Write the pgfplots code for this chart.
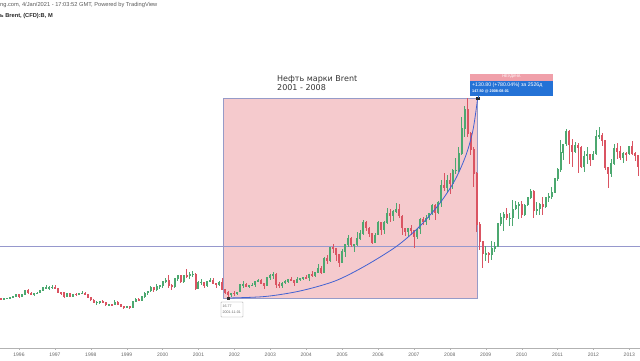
\documentclass[border=0pt]{standalone}
\usepackage{fontspec}
\setmainfont{Liberation Sans}
\newfontfamily\dejavu{DejaVu Sans}
\usepackage{pgfplots}
\usepackage{pgfplotstable}
\pgfplotsset{compat=1.18}
\definecolor{upc}{RGB}{76,168,112}
\definecolor{dnc}{RGB}{218,84,98}
\definecolor{zone}{RGB}{245,202,205}
\definecolor{zoneedge}{RGB}{150,155,200}
\definecolor{hline}{RGB}{150,152,205}
\definecolor{curveblue}{RGB}{66,98,210}
\definecolor{boxblue}{RGB}{36,114,214}
\definecolor{boxpink}{RGB}{240,160,170}
\pgfplotstableread{
yr m o h l c
1995 6 17.5 17.8 16.3 16.6
1995 7 16.6 16.9 15.8 16.2
1995 8 16.2 16.9 15.9 16.6
1995 9 16.6 16.9 16.1 16.6
1995 10 16.6 17.1 15.9 16.9
1995 11 16.9 17.8 16.6 17.6
1995 12 17.6 19.4 17.4 19.0
1996 1 19.0 19.2 16.8 17.8
1996 2 17.8 19.2 17.6 19.0
1996 3 19.0 22.0 18.8 21.5
1996 4 21.5 22.8 19.5 20.0
1996 5 20.0 20.5 18.6 19.3
1996 6 19.3 20.0 18.3 19.6
1996 7 19.6 20.8 19.2 20.0
1996 8 20.0 21.9 19.8 21.8
1996 9 21.8 24.0 21.5 23.4
1996 10 23.4 25.2 22.5 23.5
1996 11 23.5 24.5 22.3 23.7
1996 12 23.7 25.2 22.8 23.8
1997 1 23.8 25.0 22.8 23.3
1997 2 23.3 23.5 19.8 20.3
1997 3 20.3 21.0 18.8 20.2
1997 4 20.2 20.4 16.8 18.0
1997 5 18.0 20.2 17.6 19.5
1997 6 19.5 19.8 17.5 17.8
1997 7 17.8 19.6 17.6 19.4
1997 8 19.4 20.0 18.3 19.0
1997 9 19.0 20.2 18.5 20.0
1997 10 20.0 21.5 19.5 20.1
1997 11 20.1 20.4 18.6 18.9
1997 12 18.9 19.2 16.5 16.9
1998 1 16.9 17.0 14.8 15.5
1998 2 15.5 15.8 13.8 14.0
1998 3 14.0 14.6 12.0 14.1
1998 4 14.1 14.9 12.8 14.4
1998 5 14.4 15.2 13.8 14.1
1998 6 14.1 14.4 11.8 12.3
1998 7 12.3 13.0 11.6 12.4
1998 8 12.4 12.9 11.5 12.2
1998 9 12.2 15.4 12.0 14.2
1998 10 14.2 14.5 12.2 12.6
1998 11 12.6 13.0 10.6 11.0
1998 12 11.0 11.2 9.6 10.3
1999 1 10.3 11.8 10.1 11.2
1999 2 11.2 11.4 9.8 10.7
1999 3 10.7 14.8 10.5 14.5
1999 4 14.5 16.5 14.0 16.0
1999 5 16.0 16.6 14.8 15.2
1999 6 15.2 17.8 14.9 17.6
1999 7 17.6 20.4 17.0 20.0
1999 8 20.0 21.6 19.0 21.3
1999 9 21.3 24.6 20.7 23.8
1999 10 23.8 24.0 20.8 22.0
1999 11 22.0 26.1 21.6 24.5
1999 12 24.5 25.3 22.6 25.0
2000 1 25.0 28.0 23.3 27.5
2000 2 27.5 30.0 26.6 28.5
2000 3 28.5 31.5 23.0 25.0
2000 4 25.0 25.8 21.8 24.2
2000 5 24.2 30.0 23.6 29.6
2000 6 29.6 32.0 28.1 31.6
2000 7 31.6 31.9 26.3 27.2
2000 8 27.2 32.0 26.8 31.6
2000 9 31.6 35.5 29.8 31.3
2000 10 31.3 34.0 29.0 32.0
2000 11 32.0 34.5 30.5 32.5
2000 12 32.5 33.0 21.8 23.0
2001 1 23.0 27.8 22.6 26.9
2001 2 26.9 29.0 25.5 27.0
2001 3 27.0 27.4 23.4 24.6
2001 4 24.6 28.0 23.8 27.7
2001 5 27.7 29.8 27.0 28.2
2001 6 28.2 29.6 26.0 26.2
2001 7 26.2 26.5 23.6 25.5
2001 8 25.5 28.0 24.5 26.8
2001 9 26.8 30.0 21.8 22.5
2001 10 22.5 22.9 19.5 20.4
2001 11 20.4 21.5 16.77 18.7
2001 12 18.7 20.3 17.6 20.0
2002 1 20.0 21.3 17.9 19.6
2002 2 19.6 21.0 18.5 20.7
2002 3 20.7 25.8 20.4 25.5
2002 4 25.5 27.7 23.5 25.6
2002 5 25.6 26.5 23.7 24.2
2002 6 24.2 25.5 23.0 25.0
2002 7 25.0 26.5 24.5 25.3
2002 8 25.3 27.7 24.0 27.5
2002 9 27.5 29.3 27.0 28.6
2002 10 28.6 29.3 25.8 26.0
2002 11 26.0 26.4 22.8 24.6
2002 12 24.6 30.3 24.5 30.0
2003 1 30.0 32.5 28.8 31.3
2003 2 31.3 34.0 29.5 32.5
2003 3 32.5 33.0 23.0 25.4
2003 4 25.4 27.0 23.0 24.6
2003 5 24.6 27.0 23.5 26.5
2003 6 26.5 28.4 25.8 27.6
2003 7 27.6 29.2 26.9 29.0
2003 8 29.0 30.4 27.8 28.0
2003 9 28.0 28.4 24.8 26.5
2003 10 26.5 30.6 26.4 28.8
2003 11 28.8 29.7 27.6 29.6
2003 12 29.6 30.8 28.6 30.2
2004 1 30.2 31.8 29.1 30.0
2004 2 30.0 32.5 28.2 32.0
2004 3 32.0 34.2 30.3 31.6
2004 4 31.6 34.0 30.7 33.5
2004 5 33.5 39.0 33.0 36.3
2004 6 36.3 37.5 32.5 33.5
2004 7 33.5 43.3 33.2 42.7
2004 8 42.7 45.0 39.0 40.9
2004 9 40.9 49.9 40.2 49.6
2004 10 49.6 52.0 46.0 48.9
2004 11 48.9 49.0 41.2 45.3
2004 12 45.3 45.8 37.3 40.2
2005 1 40.2 48.5 39.5 47.0
2005 2 47.0 52.0 43.5 51.8
2005 3 51.8 57.8 50.2 55.5
2005 4 55.5 56.5 49.8 51.5
2005 5 51.5 52.0 46.9 51.6
2005 6 51.6 60.0 51.0 55.6
2005 7 55.6 61.5 54.8 59.0
2005 8 59.0 68.0 58.0 66.0
2005 9 66.0 67.3 60.5 62.5
2005 10 62.5 63.0 56.9 58.8
2005 11 58.8 59.0 52.0 53.1
2005 12 53.1 59.0 53.0 58.0
2006 1 58.0 67.2 58.0 66.0
2006 2 66.0 66.5 57.8 61.5
2006 3 61.5 67.0 58.9 66.0
2006 4 66.0 75.4 65.4 72.0
2006 5 72.0 74.8 66.6 70.5
2006 6 70.5 74.0 67.1 73.5
2006 7 73.5 78.7 72.0 75.0
2006 8 75.0 78.0 69.0 70.4
2006 9 70.4 71.0 58.0 62.5
2006 10 62.5 62.8 57.3 59.9
2006 11 59.9 62.8 56.6 62.0
2006 12 62.0 64.6 58.2 60.9
2007 1 60.9 60.9 49.7 57.0
2007 2 57.0 62.2 55.1 61.8
2007 3 61.8 69.0 58.8 68.1
2007 4 68.1 69.6 64.8 67.0
2007 5 67.0 70.7 64.4 69.0
2007 6 69.0 72.2 67.8 71.8
2007 7 71.8 78.3 71.3 77.0
2007 8 77.0 78.0 67.6 72.7
2007 9 72.7 80.2 72.0 79.2
2007 10 79.2 93.8 76.2 90.5
2007 11 90.5 98.6 87.0 89.0
2007 12 89.0 97.4 85.7 93.8
2008 1 93.8 98.5 84.7 91.8
2008 2 91.8 101.3 88.0 100.1
2008 3 100.1 108.0 98.0 100.3
2008 4 100.3 115.5 99.3 111.4
2008 5 111.4 135.1 110.2 127.4
2008 6 127.4 142.0 122.0 139.8
2008 7 139.8 147.5 122.0 124.1
2008 8 124.1 125.0 110.0 114.0
2008 9 114.0 115.5 89.0 98.2
2008 10 98.2 98.9 60.0 64.6
2008 11 64.6 66.2 48.3 53.5
2008 12 53.5 53.6 36.2 45.6
2009 1 45.6 50.5 41.0 45.9
2009 2 45.9 47.0 39.4 45.3
2009 3 45.3 54.0 41.3 49.2
2009 4 49.2 53.6 46.8 50.6
2009 5 50.6 66.0 50.0 65.4
2009 6 65.4 72.0 64.0 69.3
2009 7 69.3 73.0 60.5 71.7
2009 8 71.7 75.9 67.8 69.0
2009 9 69.0 72.3 64.0 69.1
2009 10 69.1 80.8 63.6 75.0
2009 11 75.0 80.4 74.5 77.3
2009 12 77.3 79.6 68.5 77.9
2010 1 77.9 80.0 69.0 71.5
2010 2 71.5 78.0 70.1 77.6
2010 3 77.6 83.0 76.6 82.7
2010 4 82.7 88.0 81.5 86.2
2010 5 86.2 87.1 69.3 74.0
2010 6 74.0 79.2 71.0 75.0
2010 7 75.0 78.8 71.1 78.0
2010 8 78.0 83.0 71.1 76.7
2010 9 76.7 82.5 75.3 82.3
2010 10 82.3 85.2 79.7 83.2
2010 11 83.2 89.2 81.3 85.9
2010 12 85.9 95.0 85.5 94.8
2011 1 94.8 101.7 93.2 101.0
2011 2 101.0 119.8 99.0 111.8
2011 3 111.8 117.4 107.0 117.4
2011 4 117.4 127.0 116.0 125.9
2011 5 125.9 126.5 104.6 116.7
2011 6 116.7 120.5 102.2 112.5
2011 7 112.5 119.0 111.6 116.7
2011 8 116.7 118.0 98.7 114.9
2011 9 114.9 116.0 101.5 102.8
2011 10 102.8 112.7 99.0 109.6
2011 11 109.6 115.6 104.6 110.5
2011 12 110.5 111.0 102.8 107.4
2012 1 107.4 112.7 107.0 110.9
2012 2 110.9 126.3 110.1 122.7
2012 3 122.7 128.4 120.6 122.9
2012 4 122.9 124.6 116.0 119.5
2012 5 119.5 119.9 100.6 102.0
2012 6 102.0 102.4 88.5 97.8
2012 7 97.8 107.6 95.6 104.9
2012 8 104.9 117.3 104.0 114.6
2012 9 114.6 117.9 107.6 112.4
2012 10 112.4 116.0 107.0 108.7
2012 11 108.7 111.9 105.0 111.2
2012 12 111.2 112.5 106.0 111.1
2013 1 111.1 116.0 110.5 115.6
2013 2 115.6 119.2 110.5 111.4
2013 3 111.4 112.0 106.5 110.0
2013 4 110.0 110.5 96.8 102.4
}\brent
\begin{document}
\begin{tikzpicture}
\useasboundingbox (0,0) rectangle (640pt,360pt);
\begin{axis}[
  at={(0pt,12pt)}, anchor=south west,
  scale only axis, width=640pt, height=348pt,
  xmin=1995.471, xmax=2013.298, ymin=-15.91, ymax=211.54,
  axis y line=none, axis x line*=bottom,
  axis line style={draw=black!30, line width=0.5pt},
  xtick={1996,1997,1998,1999,2000,2001,2002,2003,2004,2005,2006,2007,2008,2009,2010,2011,2012,2013},
  xticklabels={1996,1997,1998,1999,2000,2001,2002,2003,2004,2005,2006,2007,2008,2009,2010,2011,2012,2013},
  xticklabel style={font=\fontsize{5}{5.5}\selectfont, text=black!60, inner sep=1pt, yshift=-1.8pt},
  major tick length=2pt, tick align=outside, tick style={draw=black!30},
  x axis line style={-},
  clip=true,
]
% zone
\addplot[fill=zone, draw=zoneedge, line width=0.5pt, forget plot] coordinates {(2001.691,16.77) (2008.777,16.77) (2008.777,147.5) (2001.691,147.5)} -- cycle;
% horizontal line
\addplot[draw=hline, line width=0.5pt, forget plot] coordinates {(1995,50.9) (2014,50.9)};
% wicks up
\addplot[draw=none, mark=none, forget plot,
  restrict expr to domain={\thisrow{c}-\thisrow{o}}{0:1000},
  error bars/.cd, y dir=both, y explicit, error mark=none,
  error bar style={draw=upc, line width=0.6pt}]
  table[x expr=\thisrow{yr}+(\thisrow{m}-1)/12, y expr=(\thisrow{h}+\thisrow{l})/2,
        y error plus expr=(\thisrow{h}-\thisrow{l})/2, y error minus expr=(\thisrow{h}-\thisrow{l})/2] {\brent};
% wicks down
\addplot[draw=none, mark=none, forget plot,
  restrict expr to domain={\thisrow{c}-\thisrow{o}}{-1000:-0.0001},
  error bars/.cd, y dir=both, y explicit, error mark=none,
  error bar style={draw=dnc, line width=0.6pt}]
  table[x expr=\thisrow{yr}+(\thisrow{m}-1)/12, y expr=(\thisrow{h}+\thisrow{l})/2,
        y error plus expr=(\thisrow{h}-\thisrow{l})/2, y error minus expr=(\thisrow{h}-\thisrow{l})/2] {\brent};
% bodies up
\addplot[draw=none, mark=none, forget plot,
  restrict expr to domain={\thisrow{c}-\thisrow{o}}{0:1000},
  error bars/.cd, y dir=both, y explicit, error mark=none,
  error bar style={draw=upc, line width=2.0pt}]
  table[x expr=\thisrow{yr}+(\thisrow{m}-1)/12, y expr=(\thisrow{o}+\thisrow{c})/2,
        y error plus expr=abs(\thisrow{c}-\thisrow{o})/2+0.25, y error minus expr=abs(\thisrow{c}-\thisrow{o})/2+0.25] {\brent};
% bodies down
\addplot[draw=none, mark=none, forget plot,
  restrict expr to domain={\thisrow{c}-\thisrow{o}}{-1000:-0.0001},
  error bars/.cd, y dir=both, y explicit, error mark=none,
  error bar style={draw=dnc, line width=2.0pt}]
  table[x expr=\thisrow{yr}+(\thisrow{m}-1)/12, y expr=(\thisrow{o}+\thisrow{c})/2,
        y error plus expr=abs(\thisrow{c}-\thisrow{o})/2+0.25, y error minus expr=abs(\thisrow{c}-\thisrow{o})/2+0.25] {\brent};
% forecast curve
\addplot[draw=curveblue, line width=0.8pt, smooth, tension=0.5, forget plot] coordinates {
(2001.822,16.77) (2002.853,17.75) (2003.828,21.35) (2004.802,27.88) (2005.638,37.69)
(2006.529,50.76) (2007.170,63.83) (2007.727,78.86) (2008.145,93.89) (2008.452,110.23)
(2008.646,126.57) (2008.777,147.5)};
\addplot[only marks, mark=square*, mark size=1.2pt, mark options={fill=black!80, draw=black!80}, forget plot] coordinates {(2001.833,16.77)};
\addplot[only marks, mark=square*, mark size=1.2pt, mark options={fill=black!85, draw=black!85}, forget plot] coordinates {(2008.777,147.5)};
\end{axis}
% header texts
\node[anchor=west, inner sep=0pt, font=\fontsize{5.7}{6}\selectfont, text=black!65] at (0pt,354.5pt) {ng.com, 4/Jan/2021 - 17:03:52 GMT, Powered by TradingView};
\node[anchor=west, inner sep=0pt, font=\bfseries\fontsize{5.7}{6}\selectfont, text=black!85] at (0pt,344pt) {ь Brent, (CFD):B, M};
% title
\node[anchor=west, inner sep=0pt, align=left, font=\dejavu\fontsize{8}{9}\selectfont, text=black!80] at (277pt,276.5pt) {Нефть марки Brent\\2001 - 2008};
% forecast box
\fill[boxpink] (470pt,286.5pt) rectangle (553pt,279.5pt);
\node[inner sep=0pt, font=\fontsize{4}{4.5}\selectfont, text=white] at (511.5pt,283pt) {НЕУДАЧА};
\fill[boxblue] (470pt,279.5pt) rectangle (553pt,264pt);
\node[anchor=west, inner sep=0pt, font=\fontsize{5.2}{6}\selectfont, text=white] at (472pt,275pt) {+130.80 (+780.04\%) за 2526д};
\node[anchor=west, inner sep=0pt, font=\bfseries\fontsize{3.8}{4.5}\selectfont, text=white] at (472pt,268.5pt) {147.50 @ 2008-08-01};
\draw[boxblue, line width=0.6pt] (478pt,264pt) -- (478pt,262pt);
% low label
\draw[fill=white, draw=black!40, line width=0.4pt, rounded corners=0.5pt] (221pt,58pt) rectangle (243pt,43pt);
\node[anchor=west, inner sep=0pt, font=\fontsize{3.6}{4}\selectfont, text=black!60] at (222.5pt,54pt) {16.77};
\node[anchor=west, inner sep=0pt, font=\fontsize{3.6}{4}\selectfont, text=black!60] at (222.5pt,47.5pt) {2001-11-01};
\end{tikzpicture}
\end{document}
